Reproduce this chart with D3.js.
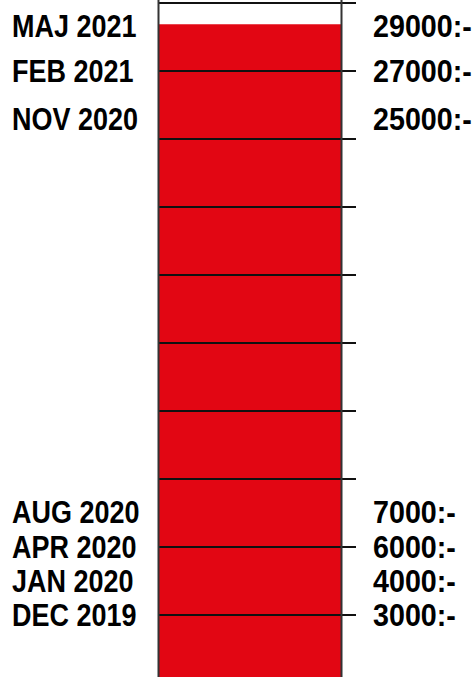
<!DOCTYPE html>
<html lang="sv">
<head>
    <meta charset="UTF-8">
    <title>Termometer</title>
    <script src="https://d3js.org/d3.v7.min.js"></script>
    <style>
        body { margin: 0; background: #fff; }
        .label {
            font-family: "Liberation Sans", Arial, sans-serif;
            font-weight: bold;
            font-size: 31px;
            fill: #000;
        }
    </style>
</head>
<body>
    <svg width="475" height="677"></svg>

    <script>
        // Datum och belopp, med nivå på termometern (1 nivå = ett skalstreck)
        const dates = ["DEC 2019", "JAN 2020", "APR 2020", "AUG 2020", "NOV 2020", "FEB 2021", "MAJ 2021"];
        const amounts = ["3000:-", "4000:-", "6000:-", "7000:-", "25000:-", "27000:-", "29000:-"];
        const labelLevels = [0, 0.49, 1, 1.51, 7.29, 8, 8.65];

        // skalstreck och nuvarande nivå
        const tickLevels = [0, 1, 2, 3, 4, 5, 6, 7, 8, 9];
        const currentLevel = 8.68;

        const svg = d3.select("svg");
        const height = +svg.attr("height");

        const y = d3.scaleLinear()
            .domain([0, 9])
            .range([614.5, 2.5]);

        const x0 = 158.5, x1 = 341.5, tickEnd = 356;

        // röd fyllning
        svg.append("rect")
            .attr("x", x0)
            .attr("y", y(currentLevel))
            .attr("width", x1 - x0)
            .attr("height", height - y(currentLevel))
            .attr("fill", "#e20613");

        // skalstreck
        svg.append("g")
            .attr("transform", `translate(${tickEnd},0)`)
            .call(d3.axisLeft(y).tickValues(tickLevels).tickSize(tickEnd - x0).tickFormat(""))
            .call(g => g.select(".domain").remove())
            .selectAll("line")
            .attr("stroke", "#111")
            .attr("stroke-width", 2);

        // kanter
        [x0, x1].forEach(xv => {
            svg.append("line")
                .attr("x1", xv).attr("x2", xv)
                .attr("y1", y(9) - 2.5).attr("y2", height)
                .attr("stroke", "#333")
                .attr("stroke-width", 2);
        });

        // etiketter (smalare, som en condensed-font)
        svg.selectAll(".date")
            .data(dates)
            .enter().append("text")
            .attr("class", "label date")
            .attr("transform", (d, i) => `translate(12,${y(labelLevels[i])}) scale(0.87,1)`)
            .attr("dy", "0.36em")
            .text(d => d);

        svg.selectAll(".amount")
            .data(amounts)
            .enter().append("text")
            .attr("class", "label amount")
            .attr("transform", (d, i) => `translate(373,${y(labelLevels[i])}) scale(0.925,1)`)
            .attr("dy", "0.36em")
            .text(d => d);
    </script>
</body>
</html>
